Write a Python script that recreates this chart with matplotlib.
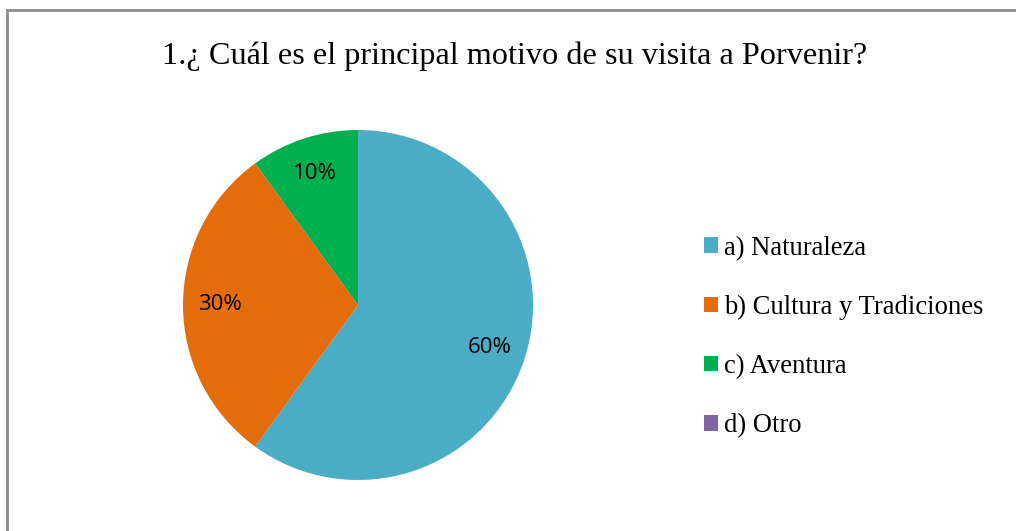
import matplotlib.pyplot as plt
from matplotlib.patches import Rectangle

# Data
categories = ["a) Naturaleza", "b) Cultura y Tradiciones", "c) Aventura", "d) Otro"]
values = [60, 30, 10, 0]
colors = ["#4BACC6", "#E46C0A", "#00B050", "#8064A2"]
title = "1.¿ Cuál es el principal motivo de su visita a Porvenir?"

W, H = 1016, 531
fig = plt.figure(figsize=(W / 100, H / 100), dpi=100)

# Outer frame of the chart area
fig.patches.append(Rectangle((7 / W, -0.05), 1.1, 1 - 10 / H + 0.05, transform=fig.transFigure,
                             fill=False, edgecolor="#8c8c8c", linewidth=2))

# Pie axes: centre (358, 305), radius 175 px
cx, cy, r = 358, 305, 175
ax = fig.add_axes([(cx - r) / W, (H - cy - r) / H, 2 * r / W, 2 * r / H])

def fmt(p):
    return "{:.0f}%".format(p) if p > 0.5 else ""

wedges, texts, autotexts = ax.pie(values, colors=colors, startangle=90, counterclock=False,
                                  autopct=fmt, pctdistance=0.79, radius=1.0,
                                  wedgeprops=dict(linewidth=0),
                                  textprops=dict(family="Open Sans", fontsize=16, color="black"))
ax.set_xlim(-1, 1)
ax.set_ylim(-1, 1)
ax.set_aspect("equal")

fig.text(515 / W, 1 - 56 / H, title, ha="center", va="center", family="Liberation Serif", fontsize=23.2)

leg = fig.legend(wedges, categories, loc="center left", bbox_to_anchor=(704 / W, 1 - 337 / H),
                 frameon=False, prop=dict(family="Liberation Serif", size=19.2),
                 handlelength=0.52, handleheight=0.52, handletextpad=0.22, labelspacing=1.28,
                 borderaxespad=0, borderpad=0)

fig.savefig("out.png", dpi=100)
